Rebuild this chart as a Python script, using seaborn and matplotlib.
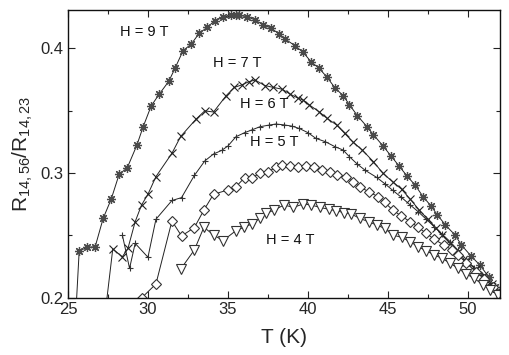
import matplotlib
matplotlib.use("Agg")
import matplotlib.pyplot as plt
import seaborn as sns
import numpy as np
from matplotlib.ticker import MultipleLocator

# ---- data ----
T_9 = [25.5, 25.7, 26.2, 26.7, 27.2, 27.7, 28.2, 28.7, 29.3, 29.7, 30.2, 30.7, 31.3, 31.7,
       32.2, 32.7, 33.2, 33.7, 34.2, 34.7, 35.2, 35.5, 35.7, 36.2, 36.7, 37.2, 37.7, 38.2,
       38.6, 39.2, 39.7, 40.2, 40.7, 41.2, 41.7, 42.2, 42.6, 43.1, 43.7, 44.1, 44.7, 45.2,
       45.7, 46.2, 46.7, 47.2, 47.7, 48.1, 48.6, 49.2, 49.6, 50.2, 50.75, 51.3, 51.7, 52.2]
R_9 = [0.190, 0.2376, 0.2405, 0.241, 0.2637, 0.279, 0.299, 0.304, 0.322, 0.337, 0.3536, 0.363,
       0.3733, 0.384, 0.398, 0.403, 0.4117, 0.4165, 0.422, 0.4245, 0.4262, 0.4265, 0.4262,
       0.425, 0.4225, 0.4184, 0.416, 0.4112, 0.407, 0.4018, 0.3966, 0.389, 0.3838, 0.3766,
       0.368, 0.362, 0.3546, 0.3458, 0.337, 0.3306, 0.3216, 0.3136, 0.3056, 0.2976, 0.2904,
       0.2811, 0.2736, 0.2664, 0.2584, 0.2504, 0.2424, 0.2336, 0.2264, 0.217, 0.2085, 0.200]

T_7 = [27.3, 27.8, 28.4, 28.75, 29.2, 29.6, 30.0, 30.5, 31.5, 32.05, 33.0, 33.55, 34.1, 34.9,
       35.4, 35.85, 36.3, 36.7, 37.3, 37.8, 38.4, 38.9, 39.4, 39.7, 40.1, 40.7, 41.2, 41.8,
       42.3, 42.8, 43.4, 44.1, 44.7, 45.3, 45.86, 46.4, 46.96, 47.5, 48.0, 48.4, 48.9, 49.4,
       49.9, 50.5, 51.0, 51.5, 52.0]
R_7 = [0.185, 0.2392, 0.233, 0.2397, 0.261, 0.2744, 0.283, 0.2971, 0.3158, 0.3293, 0.343,
       0.3497, 0.3488, 0.362, 0.3685, 0.3704, 0.373, 0.3744, 0.370, 0.3686, 0.367, 0.363,
       0.3598, 0.3584, 0.3544, 0.349, 0.3437, 0.3384, 0.3317, 0.325, 0.3184, 0.309, 0.2997,
       0.293, 0.287, 0.279, 0.2704, 0.263, 0.256, 0.2504, 0.2437, 0.237, 0.229, 0.223, 0.2184,
       0.211, 0.203]

T_6 = [28.4, 28.85, 29.2, 30.0, 30.5, 31.5, 32.1, 32.9, 33.55, 34.1, 34.6, 35.0, 35.5, 36.05,
       36.5, 37.0, 37.6, 38.0, 38.5, 39.0, 39.45, 40.0, 40.5, 41.1, 41.7, 42.2, 42.6, 43.1,
       43.6, 44.3, 44.8, 45.3, 45.85, 46.4, 46.9, 47.4, 47.9, 48.4, 48.9, 49.4, 49.9, 50.4,
       50.9, 51.4, 51.9]
R_6 = [0.2504, 0.2237, 0.2437, 0.2326, 0.263, 0.278, 0.2803, 0.298, 0.3096, 0.3152, 0.318,
       0.3216, 0.329, 0.3323, 0.3345, 0.337, 0.3384, 0.3392, 0.3385, 0.3375, 0.3357, 0.3323,
       0.3277, 0.325, 0.321, 0.3184, 0.313, 0.307, 0.302, 0.2965, 0.2915, 0.2862, 0.2805,
       0.2744, 0.269, 0.263, 0.257, 0.251, 0.245, 0.238, 0.231, 0.224, 0.218, 0.211, 0.204]

T_5 = [29.6, 30.5, 31.5, 32.1, 32.9, 33.5, 34.1, 35.0, 35.5, 36.05, 36.5, 37.0, 37.5, 38.0,
       38.4, 38.9, 39.4, 39.9, 40.4, 40.9, 41.4, 41.8, 42.4, 42.8, 43.25, 43.8, 44.4, 44.8,
       45.3, 45.85, 46.4, 46.9, 47.4, 47.9, 48.5, 49.0, 49.4, 49.9, 50.5, 51.0, 51.6, 52.0]
R_5 = [0.200, 0.2112, 0.2616, 0.2496, 0.2563, 0.2704, 0.283, 0.2864, 0.289, 0.2963, 0.296,
       0.300, 0.301, 0.3045, 0.306, 0.3055, 0.3045, 0.3055, 0.3045, 0.302, 0.3005, 0.2984,
       0.297, 0.293, 0.289, 0.285, 0.281, 0.2765, 0.2704, 0.2655, 0.261, 0.2565, 0.2517,
       0.247, 0.2424, 0.2385, 0.2344, 0.228, 0.221, 0.2155, 0.209, 0.204]

T_4 = [32.04, 32.9, 33.5, 34.1, 34.7, 35.5, 36.0, 36.5, 37.0, 37.4, 37.9, 38.5, 39.1, 39.7,
       40.2, 40.75, 41.3, 41.75, 42.25, 42.7, 43.25, 43.8, 44.3, 44.8, 45.3, 45.86, 46.4,
       46.9, 47.4, 47.9, 48.4, 48.9, 49.4, 49.9, 50.4, 50.96, 51.4, 51.9]
R_4 = [0.223, 0.2384, 0.2566, 0.2504, 0.2459, 0.2539, 0.2566, 0.2592, 0.2637, 0.2677, 0.2704,
       0.2744, 0.2725, 0.2752, 0.2744, 0.2725, 0.271, 0.2699, 0.2683, 0.2672, 0.2637, 0.261,
       0.2584, 0.2557, 0.2504, 0.2485, 0.245, 0.241, 0.2378, 0.2344, 0.2317, 0.2277, 0.2237,
       0.2192, 0.2157, 0.2104, 0.2064, 0.2024]

labels = ["H = 9 T", "H = 7 T", "H = 6 T", "H = 5 T", "H = 4 T"]
label_T = [28.25, 34.06, 35.75, 36.4, 37.4]
label_R = [0.4128, 0.388, 0.3552, 0.3248, 0.2464]

# ---- plot ----
sns.set_style("ticks")
plt.rcParams['font.family'] = ['Liberation Sans', 'DejaVu Sans']
plt.rcParams['mathtext.fontset'] = 'custom'
plt.rcParams['mathtext.rm'] = 'Liberation Sans'
plt.rcParams['mathtext.it'] = 'Liberation Sans:italic'

fig = plt.figure(figsize=(5.10, 3.55), dpi=100)
ax = fig.add_axes([0.1333, 0.1606, 0.8467, 0.8112])

line_kw = dict(color="#222222", linewidth=0.7, estimator=None, sort=False, ax=ax, legend=False)

sns.lineplot(x=T_9, y=R_9, marker=(8, 2, 0), markersize=6.5, markeredgewidth=0.9,
             markeredgecolor="#4a4a4a", **line_kw)
sns.lineplot(x=T_7, y=R_7, marker="x", markersize=6, markeredgewidth=0.8,
             markeredgecolor="#222222", **line_kw)
sns.lineplot(x=T_6, y=R_6, marker="+", markersize=5, markeredgewidth=0.8,
             markeredgecolor="#333333", **line_kw)
sns.lineplot(x=T_5, y=R_5, marker="D", markersize=5, markeredgewidth=0.8,
             markerfacecolor="white", markeredgecolor="#333333", **line_kw)
sns.lineplot(x=T_4, y=R_4, marker="v", markersize=6.5, markeredgewidth=0.8,
             markerfacecolor="white", markeredgecolor="#333333", **line_kw)

for lab, tx, ry in zip(labels, label_T, label_R):
    ax.text(tx, ry, lab, fontsize=10.5, ha="left", va="center", color="#111111")

ax.set_xlim(25, 52)
ax.set_ylim(0.2, 0.4304)
ax.xaxis.set_major_locator(MultipleLocator(5))
ax.xaxis.set_minor_locator(MultipleLocator(2.5))
ax.yaxis.set_major_locator(MultipleLocator(0.1))
ax.yaxis.set_minor_locator(MultipleLocator(0.05))
ax.tick_params(which="both", direction="in", top=True, right=True, labelsize=12,
               width=0.8, color="#222222")
ax.tick_params(which="major", length=5)
ax.tick_params(which="minor", length=3)
ax.set_xticks([25, 30, 35, 40, 45, 50])
ax.set_yticks([0.2, 0.3, 0.4])
ax.set_yticklabels(["0.2", "0.3", "0.4"])
ax.tick_params(axis="x", pad=3)
ax.tick_params(axis="y", pad=3)
for sp in ax.spines.values():
    sp.set_linewidth(1.0)
    sp.set_color("#111111")

ax.set_xlabel("T (K)", fontsize=15, labelpad=8)
ax.set_ylabel("R$_{14,56}$/R$_{14,23}$", fontsize=15, labelpad=4)

fig.savefig("out.png", dpi=100)
